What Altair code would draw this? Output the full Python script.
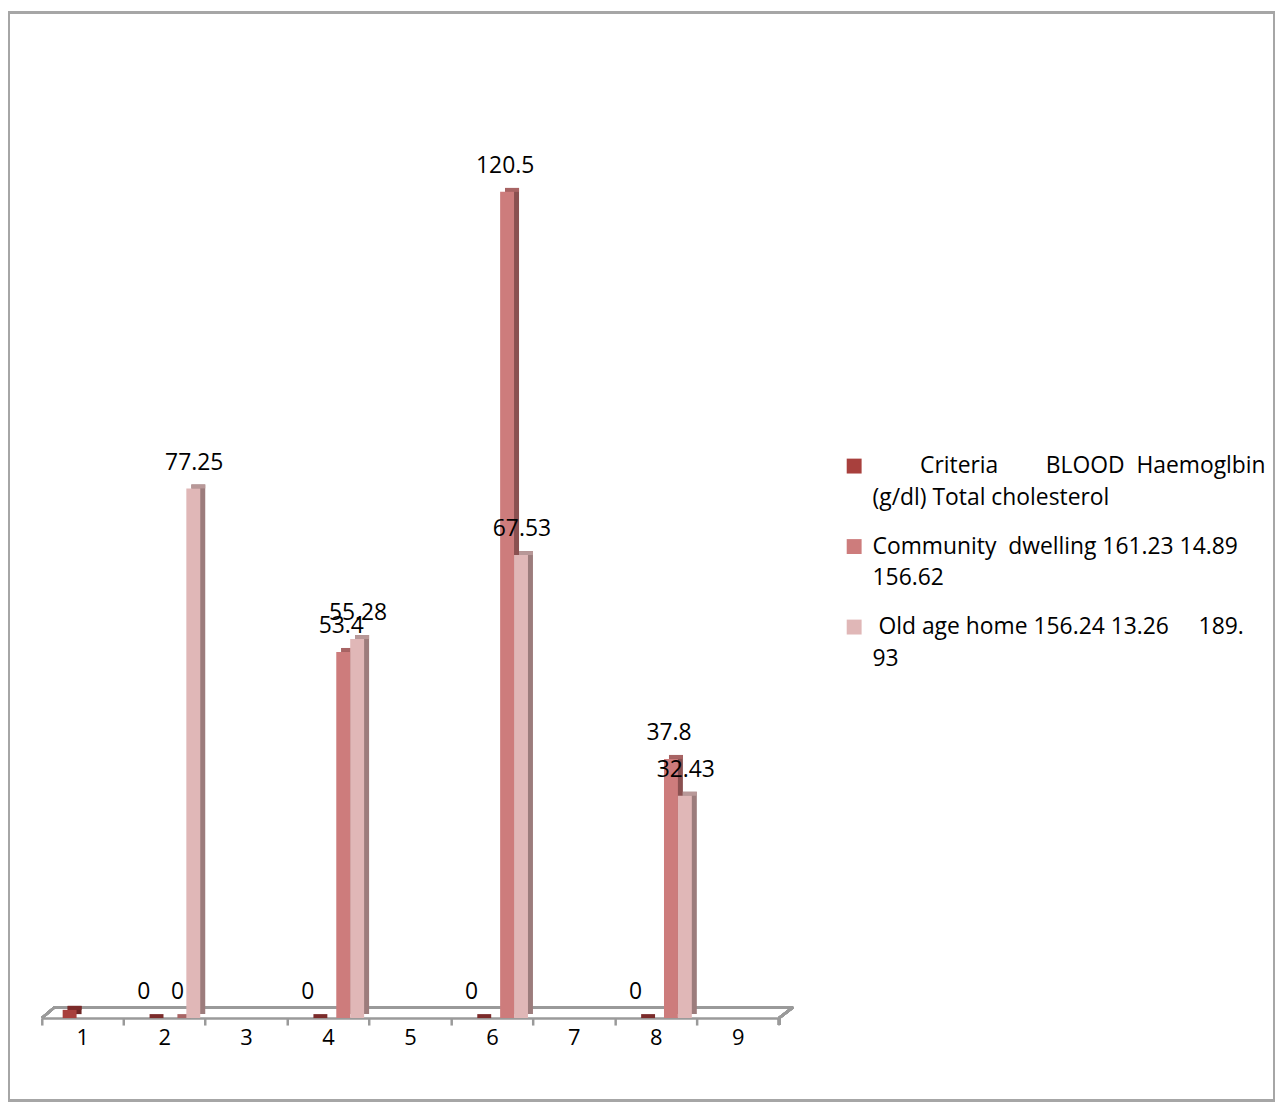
import json
import altair as alt
import pandas as pd

# ---------------- data ----------------
categories = ["1", "2", "3", "4", "5", "6", "7", "8", "9"]
series = ["Criteria", "Community dwelling", "Old age home"]

criteria_values = [1.2, 0, None, 0, None, 0, None, 0, None]
community_values = [None, 0, None, 53.4, None, 120.5, None, 37.8, None]
oldage_values = [None, 77.25, None, 55.28, None, 67.53, None, 32.43, None]

criteria_labels = ["", "0", "", "0", "", "0", "", "0", ""]
community_labels = ["", "0", "", "53.4", "", "120.5", "", "37.8", ""]
oldage_labels = ["", "77.25", "", "55.28", "", "67.53", "", "32.43", ""]

NB = "\u00a0"
ZW = "\u200b"
legend_lines = {
    "Criteria": [ZW + NB * 8 + "Criteria" + NB * 8 + "BLOOD" + NB * 2 + "Haemoglbin",
                 "(g/dl) Total cholesterol"],
    "Community dwelling": ["Community" + NB * 2 + "dwelling 161.23 14.89", "156.62"],
    "Old age home": [ZW + NB + "Old age home 156.24 13.26" + NB * 5 + "189.", "93"],
}

front_colors = ["#A8403D", "#CD7C7C", "#E0B7B7"]
side_colors = ["#6E2625", "#8A5050", "#9C7C7C"]
top_colors = ["#7B2B2A", "#A86464", "#B89898"]

# ---------------- table ----------------
rows = []
for s, vals, labs in [
    (series[0], criteria_values, criteria_labels),
    (series[1], community_values, community_labels),
    (series[2], oldage_values, oldage_labels),
]:
    for c, v, l in zip(categories, vals, labs):
        if v is not None:
            rows.append({"cat": c, "series": s, "value": v, "label": l})
df = pd.DataFrame(rows)

offset_domain = [series[0], "gap", series[1], series[2]]

W, H = 742, 966
FONT = "Open Sans"
FLOOR = "#9A9A9A"

x_enc = alt.X("cat:N", scale=alt.Scale(domain=categories, paddingInner=0, paddingOuter=0),
              axis=alt.Axis(title=None, labelAngle=0, bandPosition=0, tickSize=7,
                            tickColor=FLOOR, tickWidth=2.5, domainColor=FLOOR,
                            domainWidth=2.5, labelFontSize=22, labelFont=FONT,
                            labelColor="#000000", labelPadding=3, labelBaseline="top",
                            grid=False))


def xo(align):
    return alt.XOffset("series:N", scale=alt.Scale(domain=offset_domain, paddingInner=0,
                                                    paddingOuter=0.943, align=align))


FRONT_ALIGN = 0.795   # front faces
DEPTH_ALIGN = 0.985   # faces seen in depth (shifted right)

y_enc = alt.Y("value:Q", scale=alt.Scale(domain=[0, 140], nice=False), axis=None)

label_expr = " : ".join(
    f"datum.label == {json.dumps(k)} ? {json.dumps(v, ensure_ascii=False)}"
    for k, v in legend_lines.items()
) + " : datum.label"

base = alt.Chart(df)

side = base.mark_bar(yOffset=-4, y2Offset=-4).encode(
    x=x_enc, xOffset=xo(DEPTH_ALIGN), y=y_enc,
    color=alt.Color("series:N", scale=alt.Scale(domain=series, range=side_colors), legend=None),
)

top = base.mark_bar(yOffset=-4).encode(
    x=x_enc, xOffset=xo(DEPTH_ALIGN), y=y_enc, y2=alt.Y2("value:Q"),
    color=alt.Color("series:N", scale=alt.Scale(domain=series, range=top_colors), legend=None),
)

front = base.mark_bar().encode(
    x=x_enc, xOffset=xo(FRONT_ALIGN), y=y_enc,
    color=alt.Color("series:N", scale=alt.Scale(domain=series, range=front_colors),
                    legend=alt.Legend(title=None, orient="none", legendX=806, legendY=399,
                                      symbolType="square", symbolSize=225,
                                      symbolStrokeWidth=0, labelFont=FONT,
                                      labelFontSize=23, labelColor="#000000",
                                      labelOffset=7, labelBaseline="middle",
                                      rowPadding=25, labelLimit=0, padding=0,
                                      labelExpr=label_expr)),
)

labels = base.transform_filter("datum.label != ''").mark_text(
    font=FONT, fontSize=23, color="#000000", baseline="middle", dy=-26, dx=-5
).encode(x=x_enc, xOffset=xo(FRONT_ALIGN), y=y_enc, text="label:N")

# 3D floor decoration (back edge, side slants, last tick) and outer frame
back_edge = alt.Chart(df).mark_rule(color=FLOOR, strokeWidth=2.5).encode(
    x=alt.value(13), x2=alt.value(756), y=alt.value(H - 11))
left_slant = alt.Chart(df).mark_rule(color=FLOOR, strokeWidth=2.5).encode(
    x=alt.value(0), x2=alt.value(13), y=alt.value(H), y2=alt.value(H - 11))
right_slant = alt.Chart(df).mark_rule(color=FLOOR, strokeWidth=2.5).encode(
    x=alt.value(W), x2=alt.value(756), y=alt.value(H), y2=alt.value(H - 11))
last_tick = alt.Chart(df).mark_rule(color=FLOOR, strokeWidth=2.5).encode(
    x=alt.value(W), y=alt.value(H), y2=alt.value(H + 7))
frame = alt.Chart(df).mark_rect(fillOpacity=0, stroke="#A6A6A6", strokeWidth=2).encode(
    x=alt.value(-33), x2=alt.value(1240), y=alt.value(-46), y2=alt.value(1049))

chart = alt.layer(
    frame, back_edge, left_slant, right_slant, last_tick, side, top, front, labels
).resolve_scale(color="independent", xOffset="independent").properties(
    width=W, height=H,
    padding={"left": 34, "top": 47, "right": 500, "bottom": 85},
    autosize="none",
).configure(
    style={"guide-label": {"lineHeight": 32}}
).configure_view(stroke=None)

chart.save("out.html", embed_options={"renderer": "svg", "actions": False})
